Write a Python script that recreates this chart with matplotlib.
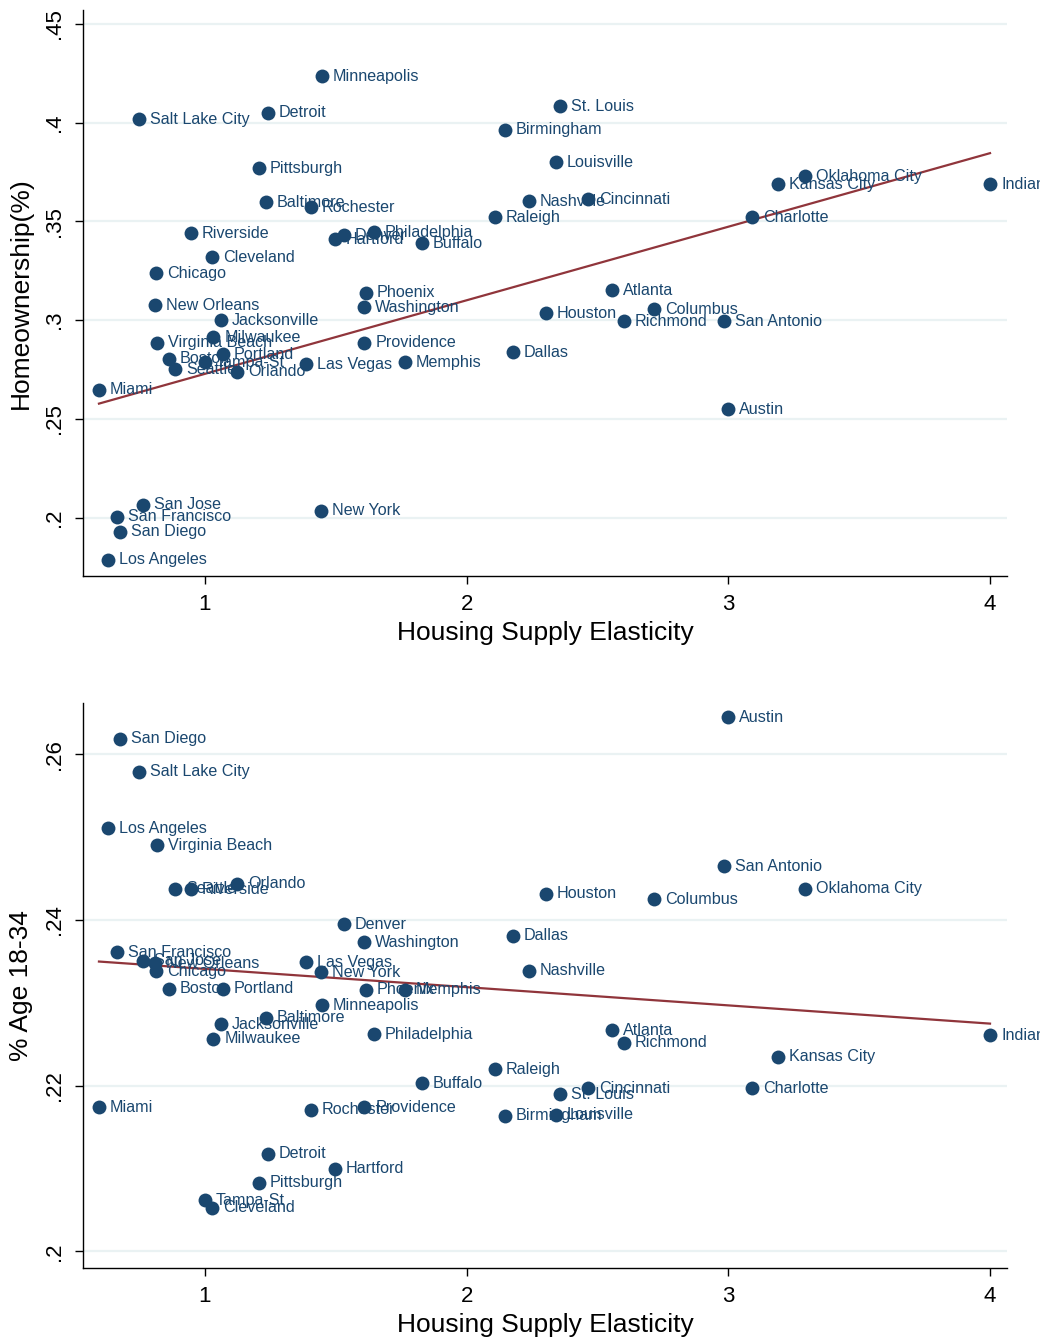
import numpy as np
import matplotlib
matplotlib.use("Agg")
import matplotlib.pyplot as plt

plt.rcParams['font.family'] = ['Liberation Sans', 'DejaVu Sans']

# ---- data (top panel: homeownership) ----
cities_top = ["Minneapolis", "St. Louis", "Salt Lake City", "Detroit", "Birmingham", "Pittsburgh",
              "Louisville", "Oklahoma City", "Kansas City", "Indianapolis", "Baltimore", "Rochester",
              "Nashville", "Cincinnati", "Raleigh", "Charlotte", "Riverside", "Denver", "Hartford",
              "Philadelphia", "Buffalo", "Cleveland", "Chicago", "Phoenix", "Washington", "Atlanta",
              "New Orleans", "Houston", "Columbus", "Richmond", "San Antonio", "Jacksonville",
              "Milwaukee", "Virginia Beach", "Providence", "Dallas", "Portland", "Boston", "Tampa-St",
              "Seattle", "Orlando", "Las Vegas", "Memphis", "Miami", "Austin", "San Jose", "New York",
              "San Francisco", "San Diego", "Los Angeles"]
elasticity_top = [1.447, 2.357, 0.748, 1.241, 2.146, 1.206,
                  2.341, 3.293, 3.190, 4.000, 1.233, 1.405,
                  2.238, 2.463, 2.108, 3.090, 0.946, 1.531, 1.497,
                  1.646, 1.829, 1.027, 0.813, 1.615, 1.608, 2.555,
                  0.809, 2.303, 2.716, 2.601, 2.983, 1.061,
                  1.031, 0.817, 1.608, 2.177, 1.069, 0.862, 1.000,
                  0.885, 1.122, 1.386, 1.764, 0.595, 3.000, 0.763, 1.443,
                  0.664, 0.675, 0.629]
homeownership = [0.4236, 0.4084, 0.4018, 0.4049, 0.3963, 0.3770,
                 0.3800, 0.3729, 0.3689, 0.3689, 0.3597, 0.3572,
                 0.3602, 0.3613, 0.3521, 0.3521, 0.3440, 0.3430, 0.3410,
                 0.3445, 0.3390, 0.3318, 0.3237, 0.3140, 0.3065, 0.3151,
                 0.3075, 0.3034, 0.3055, 0.2994, 0.2994, 0.2999,
                 0.2913, 0.2887, 0.2887, 0.2837, 0.2827, 0.2806, 0.2786,
                 0.2751, 0.2740, 0.2776, 0.2786, 0.2649, 0.2548, 0.2066, 0.2035,
                 0.2005, 0.1929, 0.1787]
# fitted line (intercept, slope)
fit_top = [0.2356, 0.03724]

# ---- data (bottom panel: share age 18-34) ----
cities_bot = ["Austin", "San Diego", "Salt Lake City", "Los Angeles", "Virginia Beach", "San Antonio",
              "Orlando", "Seattle", "Riverside", "Oklahoma City", "Houston", "Columbus", "Denver",
              "Dallas", "Washington", "San Francisco", "San Jose", "New Orleans", "Las Vegas",
              "Chicago", "New York", "Nashville", "Boston", "Portland", "Phoenix", "Memphis",
              "Minneapolis", "Baltimore", "Jacksonville", "Atlanta", "Milwaukee", "Philadelphia",
              "Indianapolis", "Richmond", "Kansas City", "Raleigh", "Buffalo", "Cincinnati",
              "Charlotte", "St. Louis", "Miami", "Rochester", "Providence", "Birmingham",
              "Louisville", "Detroit", "Hartford", "Pittsburgh", "Tampa-St", "Cleveland"]
elasticity_bot = [3.000, 0.675, 0.748, 0.629, 0.817, 2.983,
                  1.122, 0.885, 0.946, 3.293, 2.303, 2.716, 1.531,
                  2.177, 1.608, 0.664, 0.763, 0.809, 1.386,
                  0.813, 1.443, 2.238, 0.862, 1.069, 1.615, 1.764,
                  1.447, 1.233, 1.061, 2.555, 1.031, 1.646,
                  4.000, 2.601, 3.190, 2.108, 1.829, 2.463,
                  3.090, 2.357, 0.595, 1.405, 1.608, 2.146,
                  2.341, 1.241, 1.497, 1.206, 1.000, 1.027]
age_18_34 = [0.2645, 0.2619, 0.2579, 0.2511, 0.2490, 0.2465,
             0.2444, 0.2438, 0.2437, 0.2438, 0.2432, 0.2425, 0.2395,
             0.2381, 0.2373, 0.2361, 0.2351, 0.2348, 0.2349,
             0.2338, 0.2337, 0.2339, 0.2317, 0.2317, 0.2316, 0.2316,
             0.2297, 0.2282, 0.2274, 0.2267, 0.2257, 0.2262,
             0.2261, 0.2252, 0.2235, 0.2220, 0.2203, 0.2197,
             0.2197, 0.2190, 0.2174, 0.2171, 0.2174, 0.2164,
             0.2165, 0.2118, 0.2100, 0.2083, 0.2062, 0.2053]
fit_bot = [0.2363, -0.0022]

xticks = [1, 2, 3, 4]
yticks_top = [0.2, 0.25, 0.3, 0.35, 0.4, 0.45]
ytick_labels_top = [".2", ".25", ".3", ".35", ".4", ".45"]
yticks_bot = [0.2, 0.22, 0.24, 0.26]
ytick_labels_bot = [".2", ".22", ".24", ".26"]

NAVY = "#1a476f"
MAROON = "#90353b"
GRID = "#eaf2f3"

fig = plt.figure(figsize=(10.4, 13.42), dpi=100)
ax1 = fig.add_axes([0.0798, 0.5708, 0.8885, 0.4217])
ax2 = fig.add_axes([0.0798, 0.0551, 0.8885, 0.4211])


def panel(ax, xs, ys, names, fit, yticks, ylabels, ylim, ylab):
    xs = np.asarray(xs)
    ys = np.asarray(ys)
    ax.set_axisbelow(True)
    for yt in yticks:
        ax.axhline(yt, color=GRID, lw=1.6, zorder=0)
    ax.scatter(xs, ys, s=100, color=NAVY, zorder=3, linewidths=0)
    for x, y, n in zip(xs, ys, names):
        ax.annotate(n, (x, y), xytext=(8, 0), textcoords="offset points",
                    ha="left", va="center", fontsize=11.6, color=NAVY,
                    annotation_clip=False, zorder=4)
    a, b = fit
    xl = np.array([xs.min(), xs.max()])
    ax.plot(xl, a + b * xl, color=MAROON, lw=1.6, zorder=2)
    ax.set_xlim(0.534, 4.065)
    ax.set_ylim(*ylim)
    ax.set_xticks(xticks)
    ax.set_xticklabels([str(t) for t in xticks], fontsize=16)
    ax.set_yticks(yticks)
    ax.set_yticklabels(ylabels, fontsize=16, rotation=90, va="center")
    ax.tick_params(axis="both", direction="out", length=6, width=1, color="black", pad=7)
    ax.spines["top"].set_visible(False)
    ax.spines["right"].set_visible(False)
    ax.spines["left"].set_linewidth(1)
    ax.spines["bottom"].set_linewidth(1)
    ax.set_xlabel("Housing Supply Elasticity", fontsize=19, labelpad=4)
    ax.set_ylabel(ylab, fontsize=19, labelpad=8)


panel(ax1, elasticity_top, homeownership, cities_top, fit_top, yticks_top, ytick_labels_top,
      (0.1705, 0.457), "Homeownership(%)")
panel(ax2, elasticity_bot, age_18_34, cities_bot, fit_bot, yticks_bot, ytick_labels_bot,
      (0.198, 0.2662), "% Age 18-34")

fig.savefig("out.png", dpi=100, facecolor="white")
